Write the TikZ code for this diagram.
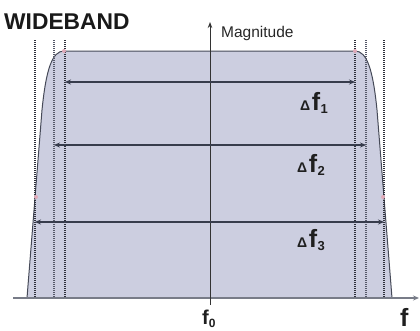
\documentclass[tikz,border=0pt]{standalone}
\usepackage{fontspec}
\setmainfont{Liberation Sans}
\usetikzlibrary{arrows.meta}
\definecolor{bandfill}{RGB}{204,206,224}
\definecolor{edgecol}{RGB}{70,74,88}
\definecolor{arrcol}{RGB}{55,60,76}
\definecolor{dotcol}{RGB}{45,47,58}
\definecolor{dotcolb}{RGB}{85,88,104}
\definecolor{axiscol}{RGB}{120,124,136}
\definecolor{pinkdot}{RGB}{225,170,185}
\tikzset{
  dline/.style={line width=1.2pt, dash pattern=on 1.2pt off 0.8pt},
  darr/.style={line width=1.2pt, arrcol, {Stealth[length=6pt,width=5pt]}-{Stealth[length=6pt,width=5pt]}},
  dlabel/.style={anchor=base west, inner sep=0pt, font=\bfseries, text=black!88},
  pdot/.style={fill=pinkdot}
}
\newcommand{\dflabel}[1]{{\fontsize{14}{14}\selectfont Δ}\kern1.5pt{\fontsize{25}{25}\selectfont f}\kern0.5pt{\fontsize{13}{13}\selectfont\raisebox{-3.5pt}{#1}}}
\begin{document}
\begin{tikzpicture}[x=1pt,y=-1pt]
\useasboundingbox (0,0) rectangle (420,330);
% band
\fill[bandfill] (27,298) -- (42,110) .. controls (46,70) and (52,51) .. (64,51) -- (355,51) .. controls (367,51) and (373,70) .. (377,110) -- (392,298) -- cycle;
\draw[edgecol, line width=1pt] (27,298) -- (42,110) .. controls (46,70) and (52,51) .. (64,51) -- (355,51) .. controls (367,51) and (373,70) .. (377,110) -- (392,298);
% dashed lines
\coordinate (d1t) at (35,40);  \coordinate (d1b) at (35,298);
\coordinate (d2t) at (54,40);  \coordinate (d2b) at (54,298);
\coordinate (d3t) at (65,40);  \coordinate (d3b) at (65,298);
\coordinate (d4t) at (355,40); \coordinate (d4b) at (355,298);
\coordinate (d5t) at (366,40); \coordinate (d5b) at (366,298);
\coordinate (d6t) at (384,40); \coordinate (d6b) at (384,298);
\draw[dline, dotcol] (d1t) -- (d1b);
\draw[dline, dotcolb] (d2t) -- (d2b);
\draw[dline, dotcol] (d3t) -- (d3b);
\draw[dline, dotcol] (d4t) -- (d4b);
\draw[dline, dotcolb] (d5t) -- (d5b);
\draw[dline, dotcol] (d6t) -- (d6b);
% pink markers
\fill[pdot] (64,51) circle (2);
\fill[pdot] (355,51) circle (2);
\fill[pdot] (36,197) circle (2);
\fill[pdot] (383,197) circle (2);
% axes
\coordinate (xs) at (13,298); \coordinate (xe) at (419,298);
\draw[axiscol, line width=1.5pt, -{Stealth[length=6pt,width=5pt]}] (xs) -- (xe);
\coordinate (ys) at (210,305); \coordinate (ye) at (210,22);
\draw[black!80, line width=0.9pt, -{Stealth[length=6pt,width=4.5pt]}] (ys) -- (ye);
% delta arrows
\coordinate (a1l) at (65,82);  \coordinate (a1r) at (355,82);
\coordinate (a2l) at (54,145); \coordinate (a2r) at (366,145);
\coordinate (a3l) at (35,222); \coordinate (a3r) at (384,222);
\draw[darr] (a1l) -- (a1r);
\draw[darr] (a2l) -- (a2r);
\draw[darr] (a3l) -- (a3r);
% labels
\node[dlabel] (l1) at (300,110) {\dflabel{1}};
\node[dlabel] (l2) at (297,172) {\dflabel{2}};
\node[dlabel] (l3) at (297,247) {\dflabel{3}};
\node[anchor=base west, inner sep=0pt, font=\bfseries\fontsize{22.8}{22.8}\selectfont, text=black!90] (title) at (4,29) {WIDEBAND};
\node[anchor=base west, inner sep=0pt, font=\fontsize{15.5}{15.5}\selectfont, text=black!85] (mag) at (221,37) {Magnitude};
\node[anchor=base west, inner sep=0pt, font=\bfseries, text=black!88] (f0) at (202,324) {{\fontsize{20}{20}\selectfont f}{\fontsize{12}{12}\selectfont\raisebox{-3.5pt}{0}}};
\node[anchor=base west, inner sep=0pt, font=\bfseries\fontsize{25}{25}\selectfont, text=black!88] (fax) at (400,326) {f};
\end{tikzpicture}
\end{document}
